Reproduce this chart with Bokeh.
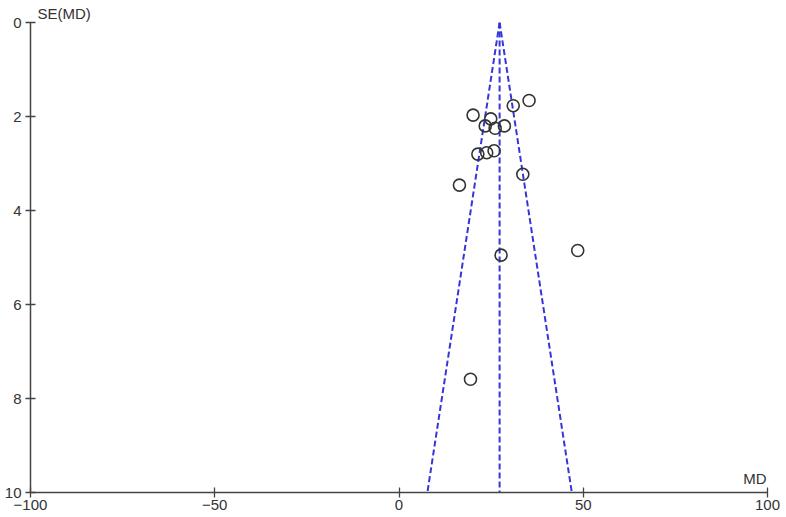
from bokeh.plotting import figure
from bokeh.models import Range1d, FixedTicker, Label, ColumnDataSource
from bokeh.embed import file_html
from bokeh.resources import INLINE

# Study estimates: mean difference and its standard error
md = [35.3, 31.0, 20.1, 24.9, 23.4, 26.1, 28.6, 21.4, 23.8, 25.8, 33.6, 16.4, 27.7, 48.5, 19.4]
se = [1.66, 1.77, 1.97, 2.05, 2.20, 2.25, 2.20, 2.80, 2.77, 2.73, 3.23, 3.46, 4.95, 4.85, 7.59]
pooled_md = 27.3
se_max = 10
x_ticks = [-100, -50, 0, 50, 100]
y_ticks = [0, 2, 4, 6, 8, 10]

FONT = "Liberation Sans"
TXT = "#333333"
AX = "#444444"
BLUE = "#3535dc"

p = figure(width=786, height=517, output_backend="svg", toolbar_location=None,
           x_range=Range1d(-100, 100), y_range=Range1d(se_max, 0),
           min_border_left=30, min_border_top=22, min_border_right=19, min_border_bottom=25,
           title="SE(MD)")
p.title.text_font = FONT
p.title.text_font_size = "15px"
p.title.text_font_style = "normal"
p.title.text_color = TXT
p.title.align = "left"
p.title.offset = 7
p.title.standoff = 2
p.outline_line_color = None
p.xgrid.visible = False
p.ygrid.visible = False
p.background_fill_color = "white"
p.border_fill_color = "white"

for ax, ticks in ((p.xaxis[0], x_ticks), (p.yaxis[0], y_ticks)):
    ax.ticker = FixedTicker(ticks=ticks)
    ax.axis_line_color = AX
    ax.axis_line_width = 1.5
    ax.major_tick_line_color = AX
    ax.major_tick_line_width = 1.3
    ax.major_tick_in = 5
    ax.major_tick_out = 5
    ax.minor_tick_line_color = None
    ax.major_label_text_font = FONT
    ax.major_label_text_font_size = "15px"
    ax.major_label_text_color = TXT
p.xaxis[0].major_label_standoff = 2
p.yaxis[0].major_label_standoff = 4

# funnel (pseudo 95% confidence limits)
for x_end in (pooled_md, pooled_md - 1.96 * se_max, pooled_md + 1.96 * se_max):
    p.line([pooled_md, x_end], [0, se_max], line_color=BLUE, line_width=2, line_dash="6 3")

src = ColumnDataSource(dict(md=md, se=se))
p.scatter("md", "se", source=src, marker="circle", size=12, fill_color=None,
          line_color="#333333", line_width=1.6)

p.add_layout(Label(x=100, y=se_max, text="MD", x_offset=-1, y_offset=6,
                   text_baseline="bottom", text_align="right",
                   text_font=FONT, text_font_size="15px", text_color=TXT))

open("out.html", "w").write(file_html(p, INLINE))
